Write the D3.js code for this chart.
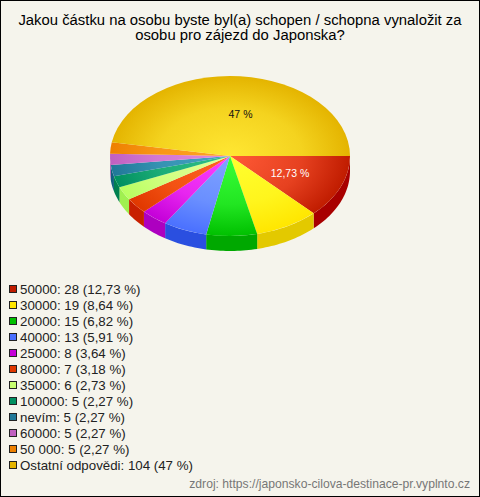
<!DOCTYPE html>
<html><head><meta charset="utf-8">
<script src="https://cdnjs.cloudflare.com/ajax/libs/d3/7.8.5/d3.min.js"></script>
<style>html,body{margin:0;padding:0;background:#f5f4ec}svg{display:block}text{font-family:"Liberation Sans",Arial,sans-serif}</style>
</head><body><svg id="c" width="480" height="497"></svg>
<script>
const titleLines=["Jakou částku na osobu byste byl(a) schopen / schopna vynaložit za","osobu pro zájezd do Japonska?"];
const categories=["50000","30000","20000","40000","25000","80000","35000","100000","nevím","60000","50 000","Ostatní odpovědi"];
const counts=[28,19,15,13,8,7,6,5,5,5,5,104];
const percentLabels=["12,73 %","8,64 %","6,82 %","5,91 %","3,64 %","3,18 %","2,73 %","2,27 %","2,27 %","2,27 %","2,27 %","47 %"];
const innerColors=["#ff5a36","#ffff30","#38ff38","#80a4ff","#ff40ff","#ff6420","#e4ff98","#30c088","#44a4c4","#e088e0","#ffa424","#ffe733"];
const outerColors=["#c01c00","#ffe600","#00c000","#4a70ff","#c400d8","#e03800","#b8ff60","#009060","#207898","#c060c0","#ee8000","#e4b400"];
const sideColors=["#a80000","#e3c900","#00a800","#2a4fe0","#ad00c0","#c82000","#a0f050","#008050","#106080","#b050b0","#c06000","#c09000"];
const swatchColors=["#c01c00","#ffe600","#00c000","#4a70ff","#c400d8","#e03800","#c8ff70","#009060","#207898","#c060c0","#ee8000","#e4b400"];
const sourceText="zdroj: https://japonsko-cilova-destinace-pr.vyplnto.cz";

const svg=d3.select("#c");
svg.append("rect").attr("x",.5).attr("y",.5).attr("width",479).attr("height",496).attr("fill","#f5f4ec").attr("stroke","#000");

svg.append("g").selectAll("text").data(titleLines).join("text")
 .attr("x",240).attr("y",(d,i)=>25+i*14.5).attr("text-anchor","middle")
 .attr("font-size",14.85).attr("fill","#000").text(d=>d);

const cx=230,cy=156,rx=120,ry=80,depth=15;
const pie=d3.pie().value(d=>d).sort(null).startAngle(Math.PI/2).endAngle(Math.PI/2+2*Math.PI);
const arcs=pie(counts);
const defs=svg.append("defs");
arcs.forEach((a,i)=>{
 const g=defs.append("radialGradient").attr("id","g"+i).attr("gradientUnits","userSpaceOnUse")
  .attr("cx",0).attr("cy",0).attr("r",rx);
 g.append("stop").attr("offset",0).attr("stop-color",innerColors[i]);
 g.append("stop").attr("offset",.6).attr("stop-color",d3.interpolateRgb(innerColors[i],outerColors[i])(.4));
 g.append("stop").attr("offset",1).attr("stop-color",outerColors[i]);
});
const px=t=>cx+rx*Math.sin(t), py=t=>cy-ry*Math.cos(t);
const wall=d3.area().x(t=>px(t)).y0(t=>py(t)).y1(t=>py(t)+depth);
const walls=svg.append("g");
arcs.forEach((a,i)=>{
 const lo=Math.max(a.startAngle,Math.PI/2),hi=Math.min(a.endAngle,3*Math.PI/2);
 if(hi<=lo)return;
 const n=Math.max(2,Math.ceil((hi-lo)*40));
 walls.append("path").attr("d",wall(d3.range(n+1).map(k=>lo+(hi-lo)*k/n))).attr("fill",sideColors[i]);
});
const arc=d3.arc().innerRadius(0).outerRadius(rx);
svg.append("g").attr("transform",`translate(${cx},${cy}) scale(1,${ry/rx})`)
 .selectAll("path").data(arcs).join("path").attr("d",arc).attr("fill",(d,i)=>`url(#g${i})`);

svg.append("text").attr("x",240.5).attr("y",118).attr("text-anchor","middle").attr("font-size",10.5).attr("fill","#111").text(percentLabels[11]);
svg.append("text").attr("x",290).attr("y",177).attr("text-anchor","middle").attr("font-size",10.5).attr("fill","#fff").text(percentLabels[0]);

const legendY=d3.scaleBand().domain(categories).range([281,473]);
const lg=svg.append("g").selectAll("g").data(categories).join("g")
 .attr("transform",d=>`translate(0,${legendY(d)})`);
lg.append("rect").attr("x",9.5).attr("y",4.5).attr("width",7).attr("height",7)
 .attr("fill",(d,i)=>swatchColors[i]).attr("stroke","#222");
lg.append("text").attr("x",20).attr("y",13).attr("font-size",13.3).attr("fill","#222")
 .text((d,i)=>`${d}: ${counts[i]} (${percentLabels[i]})`);

svg.append("text").attr("x",470).attr("y",488).attr("text-anchor","end").attr("font-size",12.15).attr("fill","#777").text(sourceText);
</script></body></html>
